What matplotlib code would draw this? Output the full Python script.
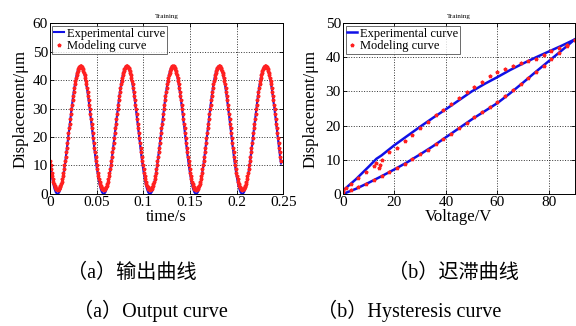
import matplotlib
matplotlib.use("Agg")
import matplotlib.pyplot as plt
import numpy as np

plt.rcParams['font.family'] = ['Liberation Serif', 'DejaVu Serif']
plt.rcParams['mathtext.fontset'] = 'stix'

# sampling step of the output curves (s)
dt = 0.0495 / 80

# (a) output curve, modeling (red points)
out_model = [
    11.5, 10.1, 8.7, 7.4, 6.3, 5.2, 4.2, 3.4, 2.8, 2.3, 1.9, 1.7, 1.6,
    1.5, 1.6, 1.7, 1.9, 2.3, 2.8, 3.4, 4.2, 5.2, 6.3, 7.4, 8.7, 10.1, 11.5, 13.0, 14.6, 16.2, 17.9, 19.6, 21.3,
    23.0, 24.7, 26.4, 28.1, 29.8, 31.4, 33.0, 34.5, 35.9, 37.3, 38.6, 39.7, 40.8, 41.8, 42.6, 43.3, 43.9, 44.4, 44.7, 44.9,
    45.0, 44.9, 44.7, 44.4, 43.9, 43.3, 42.6, 41.8, 40.8, 39.7, 38.6, 37.3, 35.9, 34.5, 33.0, 31.4, 29.8, 28.1, 26.4, 24.7,
    23.0, 21.3, 19.6, 17.9, 16.2, 14.6, 13.0, 11.5, 10.1, 8.7, 7.4, 6.3, 5.2, 4.2, 3.4, 2.8, 2.3, 1.9, 1.7, 1.6,
    1.5, 1.6, 1.7, 1.9, 2.3, 2.8, 3.4, 4.2, 5.2, 6.3, 7.4, 8.7, 10.1, 11.5, 13.0, 14.6, 16.2, 17.9, 19.6, 21.3,
    23.0, 24.7, 26.4, 28.1, 29.8, 31.4, 33.0, 34.5, 35.9, 37.3, 38.6, 39.7, 40.8, 41.8, 42.6, 43.3, 43.9, 44.4, 44.7, 44.9,
    45.0, 44.9, 44.7, 44.4, 43.9, 43.3, 42.6, 41.8, 40.8, 39.7, 38.6, 37.3, 35.9, 34.5, 33.0, 31.4, 29.8, 28.1, 26.4, 24.7,
    23.0, 21.3, 19.6, 17.9, 16.2, 14.6, 13.0, 11.5, 10.1, 8.7, 7.4, 6.3, 5.2, 4.2, 3.4, 2.8, 2.3, 1.9, 1.7, 1.6,
    1.5, 1.6, 1.7, 1.9, 2.3, 2.8, 3.4, 4.2, 5.2, 6.3, 7.4, 8.7, 10.1, 11.5, 13.0, 14.6, 16.2, 17.9, 19.6, 21.3,
    23.0, 24.7, 26.4, 28.1, 29.8, 31.4, 33.0, 34.5, 35.9, 37.3, 38.6, 39.7, 40.8, 41.8, 42.6, 43.3, 43.9, 44.4, 44.7, 44.9,
    45.0, 44.9, 44.7, 44.4, 43.9, 43.3, 42.6, 41.8, 40.8, 39.7, 38.6, 37.3, 35.9, 34.5, 33.0, 31.4, 29.8, 28.1, 26.4, 24.7,
    23.0, 21.3, 19.6, 17.9, 16.2, 14.6, 13.0, 11.5, 10.1, 8.7, 7.4, 6.3, 5.2, 4.2, 3.4, 2.8, 2.3, 1.9, 1.7, 1.6,
    1.5, 1.6, 1.7, 1.9, 2.3, 2.8, 3.4, 4.2, 5.2, 6.3, 7.4, 8.7, 10.1, 11.5, 13.0, 14.6, 16.2, 17.9, 19.6, 21.3,
    23.0, 24.7, 26.4, 28.1, 29.8, 31.4, 33.0, 34.5, 35.9, 37.3, 38.6, 39.7, 40.8, 41.8, 42.6, 43.3, 43.9, 44.4, 44.7, 44.9,
    45.0, 44.9, 44.7, 44.4, 43.9, 43.3, 42.6, 41.8, 40.8, 39.7, 38.6, 37.3, 35.9, 34.5, 33.0, 31.4, 29.8, 28.1, 26.4, 24.7,
    23.0, 21.3, 19.6, 17.9, 16.2, 14.6, 13.0, 11.5, 10.1, 8.7, 7.4, 6.3, 5.2, 4.2, 3.4, 2.8, 2.3, 1.9, 1.7, 1.6,
    1.5, 1.6, 1.7, 1.9, 2.3, 2.8, 3.4, 4.2, 5.2, 6.3, 7.4, 8.7, 10.1, 11.5, 13.0, 14.6, 16.2, 17.9, 19.6, 21.3,
    23.0, 24.7, 26.4, 28.1, 29.8, 31.4, 33.0, 34.5, 35.9, 37.3, 38.6, 39.7, 40.8, 41.8, 42.6, 43.3, 43.9, 44.4, 44.7, 44.9,
    45.0, 44.9, 44.7, 44.4, 43.9, 43.3, 42.6, 41.8, 40.8, 39.7, 38.6, 37.3, 35.9, 34.5, 33.0, 31.4, 29.8, 28.1, 26.4, 24.7,
    23.0, 21.3, 19.6, 17.9, 16.2, 14.6, 13.0, 11.5,
]

# (a) output curve, experiment (blue line), every second sample
out_exp = [
    10.7, 7.9, 5.4, 3.3, 1.7, 0.6, 0.1,
    0.1, 0.6, 1.7, 3.3, 5.4, 7.9, 10.7, 13.9, 17.3, 20.7, 24.3, 27.8, 31.1, 34.3, 37.1, 39.6, 41.7, 43.3, 44.4, 44.9,
    44.9, 44.4, 43.3, 41.7, 39.6, 37.1, 34.3, 31.1, 27.8, 24.3, 20.7, 17.3, 13.9, 10.7, 7.9, 5.4, 3.3, 1.7, 0.6, 0.1,
    0.1, 0.6, 1.7, 3.3, 5.4, 7.9, 10.7, 13.9, 17.3, 20.7, 24.3, 27.8, 31.1, 34.3, 37.1, 39.6, 41.7, 43.3, 44.4, 44.9,
    44.9, 44.4, 43.3, 41.7, 39.6, 37.1, 34.3, 31.1, 27.8, 24.3, 20.7, 17.3, 13.9, 10.7, 7.9, 5.4, 3.3, 1.7, 0.6, 0.1,
    0.1, 0.6, 1.7, 3.3, 5.4, 7.9, 10.7, 13.9, 17.3, 20.7, 24.3, 27.8, 31.1, 34.3, 37.1, 39.6, 41.7, 43.3, 44.4, 44.9,
    44.9, 44.4, 43.3, 41.7, 39.6, 37.1, 34.3, 31.1, 27.8, 24.3, 20.7, 17.3, 13.9, 10.7, 7.9, 5.4, 3.3, 1.7, 0.6, 0.1,
    0.1, 0.6, 1.7, 3.3, 5.4, 7.9, 10.7, 13.9, 17.3, 20.7, 24.3, 27.8, 31.1, 34.3, 37.1, 39.6, 41.7, 43.3, 44.4, 44.9,
    44.9, 44.4, 43.3, 41.7, 39.6, 37.1, 34.3, 31.1, 27.8, 24.3, 20.7, 17.3, 13.9, 10.7, 7.9, 5.4, 3.3, 1.7, 0.6, 0.1,
    0.1, 0.6, 1.7, 3.3, 5.4, 7.9, 10.7, 13.9, 17.3, 20.7, 24.3, 27.8, 31.1, 34.3, 37.1, 39.6, 41.7, 43.3, 44.4, 44.9,
    44.9, 44.4, 43.3, 41.7, 39.6, 37.1, 34.3, 31.1, 27.8, 24.3, 20.7, 17.3, 13.9, 10.7,
]

# (b) hysteresis, experiment
v_exp_up = [0, 5, 10, 15, 20, 25, 30, 35, 40, 45, 50, 55, 60, 65, 70, 75, 80, 85, 90]
d_exp_up = [0.0, 1.5, 3.3, 5.2, 7.2, 9.3, 11.6, 14.0, 16.6, 19.2, 21.8, 24.2, 26.6, 29.5, 32.6, 35.8, 38.9, 42.0, 45.2]
v_exp_down = [90, 85, 80, 75, 70, 65, 60, 55, 50, 45, 40, 35, 30, 25, 20, 15, 13, 10, 5, 0]
d_exp_down = [45.2, 43.4, 41.7, 40.0, 38.2, 36.3, 34.2, 32.2, 30.0, 27.4, 24.8, 22.3, 19.7, 17.0, 14.3, 11.3, 10.3, 8.0, 4.3, 1.0]

# (b) hysteresis, modeling
v_mod_up = [0, 3, 6, 9, 12, 15, 18, 21, 24, 27, 30, 33, 36, 39, 42, 45, 48, 51, 54, 57, 60,
            63, 66, 69, 72, 75, 78, 81, 84, 87, 90]
d_mod_up = [0.5, 1.2, 1.9, 2.9, 4.0, 5.2, 6.4, 7.6, 8.9, 10.2, 11.6, 13.0, 14.5, 16.1, 17.6, 19.2, 20.8,
            22.4, 23.9, 25.5, 27.0, 28.7, 30.4, 32.2, 34.0, 35.8, 37.6, 39.4, 41.3, 43.2, 45.0]
v_mod_down = [90, 87, 84, 81, 78, 75, 72, 69, 66, 63, 60, 57, 54, 51, 48, 45, 42, 39, 36, 33, 30,
              27, 24, 21, 18, 15, 14.5, 14, 13, 12, 9, 6, 3, 1, 0]
d_mod_down = [45.0, 43.6, 42.8, 41.9, 40.8, 39.6, 38.9, 38.4, 37.5, 36.6, 35.8, 34.5, 32.8, 31.2, 29.8,
              28.2, 26.3, 24.5, 23.0, 21.2, 19.3, 17.3, 15.5, 13.6, 12.2, 9.8, 8.6, 7.6, 9.0, 8.2,
              6.5, 4.6, 2.9, 1.8, 1.2]

blue = '#1010e6'
red = '#ff2020'

fig = plt.figure(figsize=(5.76, 3.26), dpi=100)
ax1 = fig.add_axes([0.0868, 0.405, 0.405, 0.524])
ax2 = fig.add_axes([0.5955, 0.405, 0.402, 0.524])

t_exp = np.arange(len(out_exp)) * 2 * dt
t_mod = np.arange(len(out_model)) * dt
ax1.plot(t_exp, out_exp, color=blue, lw=1.5, label='Experimental curve')
ax1.plot(t_mod, out_model, ls='none', marker='*', ms=2.6, color=red, label='Modeling curve')
ax1.set_xlim(0, 0.25)
ax1.set_ylim(0, 60)
ax1.set_xticks([0, 0.05, 0.1, 0.15, 0.2, 0.25])
ax1.set_xticklabels(['0', '0.05', '0.1', '0.15', '0.2', '0.25'])
ax1.set_yticks([0, 10, 20, 30, 40, 50, 60])
ax1.set_xlabel('time/s', fontsize=12, labelpad=0)
ax1.set_ylabel('Displacement/μm', fontsize=12, labelpad=3)

ax2.plot(v_exp_up, d_exp_up, color=blue, lw=1.8, label='Experimental curve')
ax2.plot(v_exp_down, d_exp_down, color=blue, lw=1.8)
ax2.plot(v_mod_up + v_mod_down, d_mod_up + d_mod_down, ls='none', marker='*', ms=2.6,
         color=red, label='Modeling curve')
ax2.set_xlim(0, 90)
ax2.set_ylim(0, 50)
ax2.set_xticks([0, 20, 40, 60, 80])
ax2.set_yticks([0, 10, 20, 30, 40, 50])
ax2.set_xlabel('Voltage/V', fontsize=12, labelpad=0)
ax2.set_ylabel('Displacement/μm', fontsize=12, labelpad=5)

for ax in (ax1, ax2):
    ax.grid(True, color='#333333', ls=':', lw=0.7)
    ax.tick_params(direction='in', top=True, right=True, length=3, width=0.6,
                   labelsize=11, pad=1.5)
    for s in ax.spines.values():
        s.set_linewidth(0.7)
    ax.set_title('Training', fontsize=5, pad=4)
    leg = ax.legend(loc='upper left', fontsize=9, handlelength=0.8, handletextpad=0.2,
                    borderaxespad=0.2, borderpad=0.15, labelspacing=0.05, fancybox=False,
                    markerscale=1.0)
    leg.get_frame().set_edgecolor('#444444')
    leg.get_frame().set_linewidth(0.7)

cjk = ['Liberation Serif', 'Noto Sans CJK SC']
fig.text(132 / 576, 1 - 273 / 326, '（a）输出曲线', ha='center', va='center', fontsize=14.5, family=cjk)
fig.text(453 / 576, 1 - 273 / 326, '（b）迟滞曲线', ha='center', va='center', fontsize=14.5, family=cjk)
fig.text(150 / 576, 1 - 311 / 326, '（a）Output curve', ha='center', va='center', fontsize=14.5, family=cjk)
fig.text(409 / 576, 1 - 311 / 326, '（b）Hysteresis curve', ha='center', va='center', fontsize=14.5, family=cjk)

fig.savefig('out.png', dpi=100)
